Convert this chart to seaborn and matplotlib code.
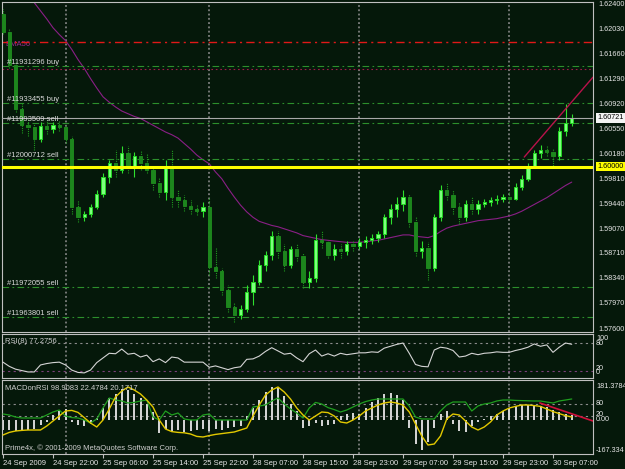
import matplotlib
matplotlib.use("Agg")
import matplotlib.pyplot as plt
import matplotlib.transforms as mtransforms
from matplotlib import font_manager
import numpy as np
import seaborn as sns

# ---------------- data (hourly bars) ----------------
time_labels = ["24 Sep 2009", "24 Sep 22:00", "25 Sep 06:00", "25 Sep 14:00",
               "25 Sep 22:00", "28 Sep 07:00", "28 Sep 15:00", "28 Sep 23:00",
               "29 Sep 07:00", "29 Sep 15:00", "29 Sep 23:00", "30 Sep 07:00"]
label_bars = [0, 8, 16, 24, 32, 40, 48, 56, 64, 72, 80, 88]
day_break_bars = [10, 33, 57, 81]

opens = [1.6226, 1.6198, 1.6150, 1.6085, 1.6062, 1.6058, 1.6040, 1.6060, 1.6055, 1.6062,
         1.6058, 1.6040, 1.5940, 1.5925, 1.5930, 1.5940, 1.5960, 1.5985, 1.6005, 1.5995,
         1.6020, 1.6000, 1.6015, 1.6005, 1.5995, 1.5975, 1.5962, 1.6000, 1.5955, 1.5950,
         1.5942, 1.5938, 1.5935, 1.5940, 1.5852, 1.5845, 1.5818, 1.5792, 1.5780, 1.5790,
         1.5815, 1.5830, 1.5855, 1.5870, 1.5898, 1.5875, 1.5855, 1.5878, 1.5868, 1.5830,
         1.5835, 1.5892, 1.5888, 1.5870, 1.5878, 1.5875, 1.5885, 1.5882, 1.5888, 1.5892,
         1.5895, 1.5900, 1.5925, 1.5938, 1.5945, 1.5955, 1.5918, 1.5875, 1.5880, 1.5850,
         1.5925, 1.5965, 1.5958, 1.5940, 1.5925, 1.5945, 1.5938, 1.5945, 1.5948, 1.5950,
         1.5952, 1.5955, 1.5952, 1.5970, 1.5982, 1.6000, 1.6020, 1.6025, 1.6022, 1.6015,
         1.6052, 1.6065]
closes = [1.6198, 1.6150, 1.6085, 1.6062, 1.6058, 1.6040, 1.6060, 1.6055, 1.6062, 1.6058,
          1.6040, 1.5940, 1.5925, 1.5930, 1.5940, 1.5960, 1.5985, 1.6005, 1.5995, 1.6020,
          1.6000, 1.6015, 1.6005, 1.5995, 1.5975, 1.5962, 1.6000, 1.5955, 1.5950, 1.5942,
          1.5938, 1.5935, 1.5940, 1.5852, 1.5845, 1.5818, 1.5792, 1.5780, 1.5790, 1.5815,
          1.5830, 1.5855, 1.5870, 1.5898, 1.5875, 1.5855, 1.5878, 1.5868, 1.5830, 1.5835,
          1.5892, 1.5888, 1.5870, 1.5878, 1.5875, 1.5885, 1.5882, 1.5888, 1.5892, 1.5895,
          1.5900, 1.5925, 1.5938, 1.5945, 1.5955, 1.5918, 1.5875, 1.5880, 1.5850, 1.5925,
          1.5965, 1.5958, 1.5940, 1.5925, 1.5945, 1.5938, 1.5945, 1.5948, 1.5950, 1.5952,
          1.5955, 1.5952, 1.5970, 1.5982, 1.6000, 1.6020, 1.6025, 1.6022, 1.6015, 1.6052,
          1.6065, 1.6072]
highs = [1.6232, 1.6205, 1.6155, 1.6095, 1.6072, 1.6065, 1.6066, 1.6068, 1.6066, 1.6068,
         1.6062, 1.6045, 1.5950, 1.5935, 1.5945, 1.5965, 1.5990, 1.6010, 1.6025, 1.6030,
         1.6030, 1.6022, 1.6025, 1.6020, 1.6000, 1.5985, 1.6010, 1.6025, 1.5965, 1.5958,
         1.5950, 1.5945, 1.5948, 1.5955, 1.5880, 1.5850, 1.5825, 1.5800, 1.5795, 1.5825,
         1.5840, 1.5862, 1.5875, 1.5905, 1.5905, 1.5885, 1.5882, 1.5885, 1.5872, 1.5845,
         1.5900, 1.5905, 1.5890, 1.5885, 1.5885, 1.5890, 1.5892, 1.5895, 1.5898, 1.5900,
         1.5905, 1.5930, 1.5945, 1.5955, 1.5965, 1.5960, 1.5925, 1.5890, 1.5888, 1.5930,
         1.5972, 1.5975, 1.5965, 1.5948, 1.5950, 1.5955, 1.5950, 1.5952, 1.5955, 1.5958,
         1.5960, 1.5962, 1.5975, 1.5988, 1.6005, 1.6025, 1.6032, 1.6032, 1.6028, 1.6058,
         1.6092, 1.6078]
lows = [1.6195, 1.6145, 1.6080, 1.6050, 1.6045, 1.6025, 1.6036, 1.6048, 1.6050, 1.6052,
        1.6035, 1.5930, 1.5918, 1.5920, 1.5925, 1.5938, 1.5955, 1.5975, 1.5985, 1.5990,
        1.5990, 1.5985, 1.5995, 1.5990, 1.5965, 1.5955, 1.5950, 1.5940, 1.5940, 1.5935,
        1.5930, 1.5928, 1.5925, 1.5840, 1.5835, 1.5810, 1.5785, 1.5770, 1.5775, 1.5785,
        1.5795, 1.5825, 1.5845, 1.5862, 1.5865, 1.5845, 1.5850, 1.5860, 1.5820, 1.5820,
        1.5830, 1.5880, 1.5865, 1.5862, 1.5865, 1.5870, 1.5875, 1.5878, 1.5880, 1.5885,
        1.5888, 1.5895, 1.5915, 1.5925, 1.5935, 1.5910, 1.5868, 1.5865, 1.5832, 1.5845,
        1.5920, 1.5950, 1.5930, 1.5915, 1.5920, 1.5930, 1.5930, 1.5940, 1.5942, 1.5945,
        1.5948, 1.5948, 1.5950, 1.5965, 1.5978, 1.5998, 1.6012, 1.6015, 1.5998, 1.6010,
        1.6045, 1.6060]
ema56 = [1.6300, 1.6288, 1.6274, 1.6262, 1.6252, 1.6242, 1.6230, 1.6218, 1.6205, 1.6195,
         1.6186, 1.6173, 1.6158, 1.6145, 1.6130, 1.6116, 1.6103, 1.6095, 1.6088, 1.6082,
         1.6078, 1.6074, 1.6071, 1.6066, 1.6061, 1.6056, 1.6051, 1.6047, 1.6042, 1.6034,
         1.6026, 1.6017, 1.6010, 1.6004, 1.5992, 1.5982, 1.5968, 1.5955, 1.5943, 1.5933,
         1.5925, 1.5919, 1.5916, 1.5913, 1.5911, 1.5908, 1.5905, 1.5902, 1.5898, 1.5896,
         1.5894, 1.5892, 1.5891, 1.5890, 1.5889, 1.5888, 1.5888, 1.5888, 1.5889, 1.5890,
         1.5891, 1.5893, 1.5895, 1.5897, 1.5899, 1.5899, 1.5897, 1.5896, 1.5895, 1.5898,
         1.5904, 1.5909, 1.5912, 1.5914, 1.5916, 1.5918, 1.5920, 1.5921, 1.5922, 1.5923,
         1.5925, 1.5927, 1.5930, 1.5934, 1.5939, 1.5944, 1.5949, 1.5954, 1.5960, 1.5966,
         1.5972, 1.5977]
rsi = [39, 30, 24, 21, 18, 18, 33, 36, 38, 39,
       33, 22, 17, 16, 22, 38, 48, 58, 57, 67,
       56, 58, 50, 54, 40, 46, 38, 50, 48, 39,
       39, 39, 39, 28, 31, 27, 23, 27, 29, 45,
       46, 52, 62, 70, 63, 56, 58, 48, 40, 57,
       65, 52, 57, 52, 58, 55, 57, 59, 59, 61,
       60, 69, 73, 77, 80, 58, 34, 30, 29, 65,
       71, 69, 64, 50, 52, 58, 55, 58, 59, 61,
       60, 60, 64, 67, 71, 78, 73, 76, 60, 71,
       80, 77.2756]
macd_hist = [-50, -50, -55, -55, -50, -45, -25, -10, 25, 45,
             55, -10, -25, -30, -20, 10, 60, 110, 130, 155,
             150, 130, 110, 80, 40, -65, -45, -55, -50, -60,
             -55, -50, -45, -55, -45, -50, -40, -35, -30, 20,
             60, 100, 140, 165, 160, 120, 80, 45, -40, -30,
             -15, -30, -25, -20, 20, 30, 35, 30, 60, 90,
             110, 130, 135, 125, 100, -40, -120, -150, -110, -40,
             30, 45, -20, -55, -60, -30, -10, 5, 20, 30,
             45, 60, 70, 75, 75, 75, 70, 65, 50, 40,
             30, 25]
macd_yellow = [-75, -62, -55, -52, -50, -50, -50, -30, -5, 20,
               45, 48, 38, 12, -15, -35, 0, 55, 115, 145,
               165, 150, 130, 100, 65, 0, -45, -58, -62, -64,
               -70, -82, -85, -78, -72, -68, -64, -60, -50, -40,
               20, 75, 125, 150, 165, 140, 105, 60, 25, 0,
               20, 40, 37, 20, -10, -15, 0, 20, 45, 60,
               75, 85, 90, 85, 75, 40, -20, -80, -125, -120,
               -80, 5, 30, 25, -5, -35, -50, -35, -10, 25,
               45, 60, 68, 75, 75, 72, 68, 55, 42, 32,
               22, 15]
macd_green = [30, 25, 15, 10, 10, 10, 10, 25, 40, 50,
              20, 12, 10, 0, -15, 5, 60, 110, 100, 95,
              85, 88, 95, 100, 15, 0, 45, 25, 35, 5,
              0, 0, 25, 30, 0, 0, 0, 0, 0, 0,
              65, 70, 75, 95, 110, 80, 55, 35, 10, 60,
              88, 80, 62, 52, 40, 50, 65, 80, 92, 100,
              105, 105, 105, 105, 105, 70, 15, 5, 5, 5,
              45, 75, 90, 90, 90, 45, 70, 80, 85, 95,
              100, 100, 98, 97, 96, 95, 95, 90, 85, 95,
              100, 105]

price_tick_labels = ["1.62400", "1.62030", "1.61660", "1.61290", "1.60920", "1.60550",
                     "1.60180", "1.59810", "1.59440", "1.59070", "1.58710", "1.58340",
                     "1.57970", "1.57600"]
order_prices = [1.6148, 1.6094, 1.6064, 1.6011, 1.5822, 1.5778]
order_labels = ["#11931296 buy", "#11933455 buy", "#11993509 sell",
                "#12000712 sell", "#11972055 sell", "#11963801 sell"]
stop_price = 1.6184
red_dot_price = 1.6144
bid_price = 1.60721
level_price = 1.60000
trend_bars = [83.4, 94.4]
trend_prices = [1.6014, 1.6132]
macd_trend_bars = [85.9, 94.4]
macd_trend_vals = [85, -5]
rsi_levels = [80, 20]
macd_levels = [80, 20]
rsi_scale_labels = ["100", "80", "20", "0"]
macd_scale_labels = ["181.3784", "80", "20", "0.00", "-167.334"]

# ---------------- style ----------------
BG = "#05180a"
FG = "#e6e6e6"
BORDER = "#c0c0c0"
sns.set_style("dark", {"axes.facecolor": BG, "figure.facecolor": BG,
                       "axes.edgecolor": BORDER, "axes.grid": False,
                       "text.color": FG, "xtick.color": BORDER, "ytick.color": BORDER})
names = {f.name for f in font_manager.fontManager.ttflist}
base_font = "Liberation Sans Narrow" if "Liberation Sans Narrow" in names else "Liberation Sans"
plt.rcParams["font.family"] = [base_font, "DejaVu Sans"]
narrow = base_font == "Liberation Sans Narrow"
FS = 6 if narrow else 5.5       # in-chart texts and time labels
FS_R = 6 if narrow else 5.2     # right-hand scale labels

W, H = 625, 469
fig = plt.figure(figsize=(W / 100, H / 100), dpi=100)
fig.patch.set_facecolor(BG)


def panel(x0, y0, x1, y1):
    return fig.add_axes([x0 / W, 1 - y1 / H, (x1 - x0) / W, (y1 - y0) / H])


ax = panel(2, 2, 593, 332)
ax_r = panel(2, 334, 593, 378)
ax_m = panel(2, 380, 593, 454)

bars = np.arange(len(closes))
for a in (ax, ax_r, ax_m):
    a.set_facecolor(BG)
    for s in a.spines.values():
        s.set_visible(True)
        s.set_color(BORDER)
        s.set_linewidth(0.8)
    for b in day_break_bars:
        a.axvline(b, color="#929292", lw=1.1, ls=(0, (1.2, 1.6)), zorder=1)

# ---------------- main price panel ----------------
o, h, l, c = map(np.array, (opens, highs, lows, closes))
bull = c >= o
ax.vlines(bars[bull], l[bull], h[bull], color="#2ee02e", lw=0.8, zorder=3)
ax.vlines(bars[~bull], l[~bull], h[~bull], color="#1f9a1f", lw=0.8,
          linestyles=(0, (1, 1)), zorder=3)
body_lo = np.minimum(o, c)
body_h = np.maximum(np.abs(c - o), 0.00004)
ax.bar(bars[bull], body_h[bull], bottom=body_lo[bull], width=0.55,
       color="#7dff7d", edgecolor="#22d822", linewidth=0.7, zorder=4)
ax.bar(bars[~bull], body_h[~bull], bottom=body_lo[~bull], width=0.55,
       color="#1d861d", edgecolor="#1d861d", linewidth=0.7, zorder=4)

sns.lineplot(x=bars, y=ema56, ax=ax, color="#8a1f86", lw=0.8, zorder=2)
sns.lineplot(x=trend_bars, y=trend_prices, ax=ax, color="#b8124a", lw=1.0, zorder=5)

for p in order_prices:
    ax.axhline(p, color="#2c8f2c", lw=0.8, ls=(0, (6, 3, 1.5, 3)), zorder=2)
ax.axhline(stop_price, color="#e01818", lw=1.0, ls=(0, (6, 3, 1.5, 3)), zorder=2)
ax.axhline(red_dot_price, color="#a0184a", lw=0.8, ls=(0, (1.5, 2.5)), zorder=2)
ax.axhline(bid_price, color="#a8a8a8", lw=0.8, zorder=5)
ax.axhline(level_price, color="#ffff00", lw=2.2, zorder=6)

ax.set_xlim(-0.16, 94.4)
ax.set_ylim(1.57556, 1.62430)
ax.set_xticks([])
ax.set_yticks([])
ax.set_xlabel("")
ax.set_ylabel("")

lab_tr = mtransforms.blended_transform_factory(fig.transFigure, ax.transData)
lab_tr_up = mtransforms.offset_copy(lab_tr, fig=fig, y=2.2, units="dots")
for p, t in zip(order_prices, order_labels):
    ax.text(7 / W, p, t, transform=lab_tr_up, fontsize=FS, color="#d8d8d8",
            va="baseline", ha="left", zorder=8, clip_on=False)
ax.text(5 / W, stop_price, "EMA56", transform=mtransforms.offset_copy(lab_tr, fig=fig, y=-2.5, units="dots"),
        fontsize=FS, color="#9a2a96", va="center", ha="left", zorder=1, clip_on=False)

for t in price_tick_labels:
    ax.text(598 / W, float(t), t, transform=lab_tr, fontsize=FS_R, color=FG,
            va="center", ha="left", clip_on=False)
ax.text(597 / W, bid_price, f"{bid_price:.5f}", transform=lab_tr, fontsize=FS_R, color="black",
        va="center", ha="left", clip_on=False, zorder=10,
        bbox=dict(boxstyle="square,pad=0.2", fc="#f4f4f4", ec="none"))
ax.text(597 / W, level_price, f"{level_price:.5f}", transform=lab_tr, fontsize=FS_R, color="black",
        va="center", ha="left", clip_on=False, zorder=10,
        bbox=dict(boxstyle="square,pad=0.2", fc="#ffff00", ec="none"))

# ---------------- RSI panel ----------------
sns.lineplot(x=bars, y=rsi, ax=ax_r, color="#d4d4d4", lw=0.8, zorder=3)
ax_r.axhline(rsi_levels[0], color="#8c8c8c", lw=0.8, ls=(0, (2, 3)), zorder=2)
ax_r.axhline(rsi_levels[1], color="#7a3f78", lw=0.8, ls=(0, (2, 3)), zorder=2)
ax_r.set_xlim(-0.16, 94.4)
ax_r.set_ylim(5.05, 99.3)
ax_r.set_xticks([])
ax_r.set_yticks([])
ax_r.set_xlabel("")
ax_r.set_ylabel("")
fig.text(5 / W, 1 - 341 / H, f"RSI(8) {rsi[-1]:.4f}", fontsize=FS, color="#cfcfcf",
         va="center", ha="left")
for t, ypx in zip(rsi_scale_labels, [338, 343, 369, 373]):
    fig.text(596 / W, 1 - ypx / H, t, fontsize=FS_R, color=FG, va="center", ha="left")

# ---------------- MACD on RSI panel ----------------
ax_m.vlines(bars, 0, macd_hist, color="#d8d8d8", lw=1.4, zorder=2)
sns.lineplot(x=bars, y=macd_green, ax=ax_m, color="#1f9f1f", lw=0.9, zorder=3)
sns.lineplot(x=bars, y=macd_yellow, ax=ax_m, color="#e2c800", lw=1.0, zorder=4)
sns.lineplot(x=macd_trend_bars, y=macd_trend_vals, ax=ax_m, color="#d0103a", lw=1.2, zorder=5)
for lv in macd_levels:
    ax_m.axhline(lv, color="#8c8c8c", lw=0.8, ls=(0, (2, 3)), zorder=1)
ax_m.set_xlim(-0.16, 94.4)
ax_m.set_ylim(-170, 200)
ax_m.set_yticks([])
ax_m.set_xlabel("")
ax_m.set_ylabel("")
ax_m.set_xticks(label_bars)
ax_m.set_xticklabels(time_labels, ha="left")
ax_m.tick_params(axis="x", bottom=True, length=3, width=0.8, color=BORDER, pad=1.2,
                 labelsize=FS, labelcolor=FG)
fig.text(5 / W, 1 - 388 / H, "MACDonRSI 98.9083 22.4784 20.1717", fontsize=FS,
         color="#cfcfcf", va="center", ha="left")
fig.text(5 / W, 1 - 448 / H, "Prime4x, \u00a9 2001-2009 MetaQuotes Software Corp.",
         fontsize=FS, color="#cfcfcf", va="center", ha="left")
for t, ypx in zip(macd_scale_labels, [386, 403, 414, 419, 450]):
    fig.text(596 / W, 1 - ypx / H, t, fontsize=FS_R, color=FG, va="center", ha="left")

fig.savefig("out.png", dpi=100, facecolor=BG)
